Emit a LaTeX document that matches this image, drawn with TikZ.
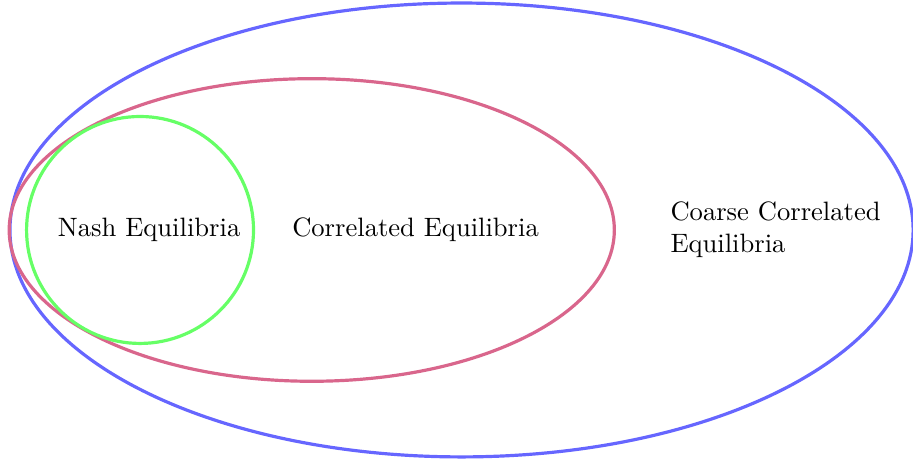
\documentclass[tikz,border=0pt]{standalone}
\begin{document}
\begin{tikzpicture}[
  set/.style={very thick},
  lbl/.style={inner sep=0pt, font=\normalsize}
]
\useasboundingbox (-173.6pt,-87.2pt) rectangle (169.8pt,86.5pt);
% nested solution concepts
\draw[set, blue!60] (0,0) ellipse [x radius=5.97cm, y radius=3cm];
\draw[set, purple!60] (-1.98cm,0) ellipse [x radius=4cm, y radius=2cm];
\draw[set, green!60] (-4.25cm,0) circle [radius=1.5cm];
% labels
\node[lbl] (nash) at (-117.5pt,0) {Nash Equilibria};
\node[lbl] (ce) at (-17.3pt,0) {Correlated Equilibria};
\node[lbl, anchor=west, align=left] (cce) at (78.4pt,0) {Coarse Correlated\\Equilibria};
\end{tikzpicture}
\end{document}
